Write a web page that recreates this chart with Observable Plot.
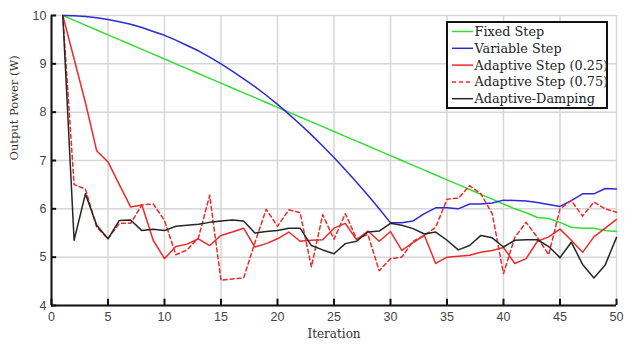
<!DOCTYPE html>
<html>
<head>
<meta charset="utf-8">
<script src="https://cdn.jsdelivr.net/npm/d3@7"></script>
<script src="https://cdn.jsdelivr.net/npm/@observablehq/plot@0.6"></script>
<style>
  html, body { margin: 0; padding: 0; background: #fff; }
  #wrap { position: relative; width: 632px; height: 345px; }
  #legend { position: absolute; left: 446px; top: 21px; overflow: visible; }
</style>
</head>
<body>
<div id="wrap"></div>
<script>
const iterations = [1,2,3,4,5,6,7,8,9,10,11,12,13,14,15,16,17,18,19,20,21,22,23,24,25,26,27,28,29,30,31,32,33,34,35,36,37,38,39,40,41,42,43,44,45,46,47,48,49,50];

const fixedStep = [10,9.9,9.8,9.7,9.6,9.5,9.4,9.3,9.2,9.1,9.0,8.9,8.8,8.7,8.6,8.5,8.4,8.3,8.2,8.1,8.0,7.9,7.8,7.7,7.6,7.5,7.4,7.3,7.2,7.1,7.0,6.9,6.8,6.7,6.6,6.5,6.4,6.3,6.2,6.1,6.0,5.92,5.82,5.8,5.72,5.62,5.6,5.6,5.55,5.53];

const variableStep = [10,9.995,9.98,9.954,9.918,9.87,9.82,9.75,9.67,9.59,9.49,9.38,9.27,9.14,9.0,8.85,8.69,8.53,8.35,8.16,7.96,7.75,7.53,7.30,7.06,6.81,6.55,6.28,6.0,5.71,5.71,5.75,5.9,6.02,6.02,6.0,6.1,6.1,6.12,6.18,6.17,6.16,6.13,6.09,6.05,6.17,6.31,6.31,6.42,6.41];

const adaptive025 = [10,9.1,8.2,7.2,6.97,6.5,6.04,6.08,5.35,4.97,5.22,5.27,5.38,5.24,5.45,5.52,5.6,5.21,5.28,5.38,5.52,5.33,5.35,5.36,5.6,5.7,5.36,5.54,5.33,5.53,5.14,5.3,5.45,4.87,5.0,5.02,5.04,5.1,5.14,5.2,4.87,4.97,5.33,5.42,5.58,5.35,5.1,5.42,5.6,5.78];

const adaptive075 = [10,6.5,6.41,5.62,5.38,5.7,5.7,6.08,6.1,5.76,5.05,5.15,5.4,6.28,4.52,4.55,4.57,5.3,5.99,5.64,5.98,5.92,4.8,5.88,5.37,5.9,5.38,5.47,4.72,4.97,5.0,5.33,5.45,5.62,6.2,6.22,6.48,6.31,5.9,4.66,5.41,5.72,5.41,5.05,6.0,6.17,5.85,6.14,6.0,5.93];

const adaptiveDamping = [10,5.35,6.31,5.66,5.38,5.76,5.77,5.55,5.58,5.55,5.64,5.66,5.68,5.72,5.75,5.77,5.75,5.5,5.53,5.55,5.6,5.6,5.24,5.15,5.07,5.28,5.33,5.52,5.54,5.7,5.66,5.59,5.48,5.52,5.35,5.15,5.24,5.45,5.4,5.21,5.35,5.36,5.36,5.22,4.99,5.31,4.85,4.57,4.84,5.41];

const seriesNames = ["Fixed Step","Variable Step","Adaptive Step (0.25)","Adaptive Step (0.75)","Adaptive-Damping"];
const seriesColors = ["#33dd33","#2a2ad8","#ec2a2a","#ec2a2a","#262626"];
const seriesDash = [null,null,null,"4,3",null];
const seriesValues = [fixedStep, variableStep, adaptive025, adaptive075, adaptiveDamping];

const xTicks = [0,5,10,15,20,25,30,35,40,45,50];
const yTicks = [4,5,6,7,8,9,10];

const serif = "DejaVu Serif, serif";
const sans = "Liberation Sans, Arial, sans-serif";

const lineMarks = seriesValues.map((vals, i) => {
  const data = iterations.map((it, j) => ({it, v: vals[j]}));
  return Plot.line(data, {x: "it", y: "v", stroke: seriesColors[i], strokeWidth: 1.5,
    strokeDasharray: seriesDash[i] ?? undefined});
});

const chart = Plot.plot({
  width: 632, height: 345,
  marginLeft: 51, marginRight: 16, marginTop: 15, marginBottom: 40,
  style: {background: "transparent", overflow: "visible"},
  x: {domain: [0, 50]},
  y: {domain: [4, 10]},
  marks: [
    Plot.gridX(xTicks, {stroke: "#d6d6d6", strokeOpacity: 1, strokeWidth: 1.5}),
    Plot.gridY(yTicks, {stroke: "#d6d6d6", strokeOpacity: 1, strokeWidth: 1.5}),
    ...lineMarks,
    Plot.ruleY([4], {stroke: "#111", strokeWidth: 2}),
    Plot.ruleX([0], {stroke: "#111", strokeWidth: 2}),
    Plot.ruleX(xTicks, {x: d => d, y1: 4, y2: 4.13, stroke: "#111", strokeWidth: 2}),
    Plot.ruleY(yTicks, {y: d => d, x1: 0, x2: 0.45, stroke: "#111", strokeWidth: 2}),
    Plot.axisX(xTicks, {tickSize: 0, tickPadding: 7, fontSize: 12.5, fontFamily: sans, fill: "#444", label: null}),
    Plot.axisY(yTicks, {tickSize: 0, tickPadding: 5, fontSize: 12.5, fontFamily: sans, fill: "#444", label: null}),
    Plot.text(["Iteration"], {frameAnchor: "bottom", dy: 32, fontFamily: serif, fontSize: 12, fill: "#333"}),
    Plot.text(["Output Power (W)"], {frameAnchor: "left", dx: -37, rotate: -90, fontFamily: serif, fontSize: 11.5, fill: "#333"})
  ]
});
const wrap = document.getElementById("wrap");
wrap.appendChild(chart);

// Legend as an overlay SVG
const lw = 162, lh = 88, rowH = 16.8;
const lg = d3.create("svg").attr("id", "legend").attr("width", lw).attr("height", lh);
lg.append("rect").attr("x", 1).attr("y", 1).attr("width", lw - 2).attr("height", lh - 2)
  .attr("fill", "#fff").attr("stroke", "#111").attr("stroke-width", 2);
seriesNames.forEach((name, i) => {
  const cy = 10.5 + i * rowH;
  lg.append("line").attr("x1", 6).attr("x2", 27).attr("y1", cy).attr("y2", cy)
    .attr("stroke", seriesColors[i]).attr("stroke-width", 1.5)
    .attr("stroke-dasharray", seriesDash[i]);
  lg.append("text").attr("x", 28.5).attr("y", cy).attr("dy", "0.35em")
    .attr("font-family", serif).attr("font-size", 12.8).attr("fill", "#222").text(name);
});
wrap.appendChild(lg.node());
</script>
</body>
</html>
